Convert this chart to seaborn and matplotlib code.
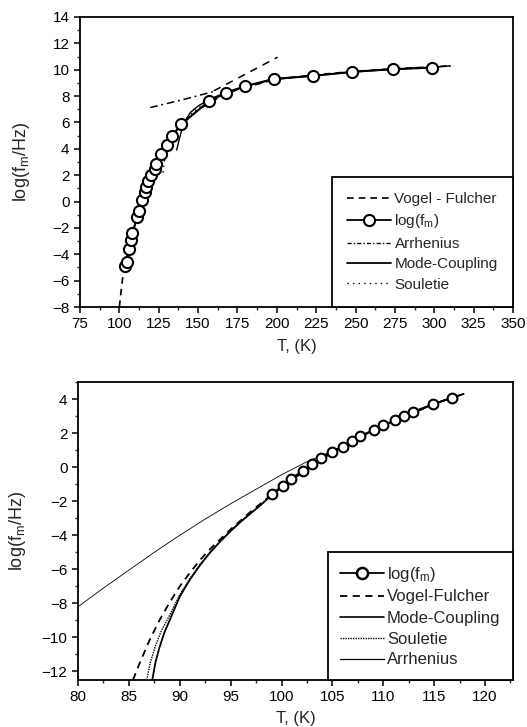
import matplotlib
matplotlib.use("Agg")
import matplotlib.pyplot as plt
from matplotlib.lines import Line2D
from matplotlib.ticker import MultipleLocator
import seaborn as sns

# ---------------- data: upper panel ----------------
top_T = [103.4, 104.6, 106.1, 107.4, 108.2, 111.4, 112.5, 114.6, 116.3, 116.8, 118.0, 119.9,
         122.6, 123.0, 126.2, 130.2, 133.5, 139.1, 157.0, 168.0, 180.0, 198.0, 223.0, 248.0,
         273.5, 298.7]
top_log = [-4.86, -4.55, -3.6, -2.9, -2.4, -1.2, -0.7, 0.08, 0.7, 1.12, 1.55, 1.98,
           2.5, 2.86, 3.63, 4.3, 4.95, 5.85, 7.62, 8.27, 8.75, 9.3, 9.53, 9.84,
           10.04, 10.16]

top_vf_T = [100, 101, 102, 103, 104.5, 106, 108, 110, 113, 116, 120, 125, 130, 135, 140,
            150, 160, 175, 200, 225, 250, 275, 300, 310]
top_vf_log = [-8.0, -6.9, -5.9, -5.0, -4.3, -3.5, -2.6, -1.7, -0.5, 0.6, 1.9, 3.3, 4.4, 5.2, 5.9,
              6.95, 7.7, 8.5, 9.3, 9.62, 9.88, 10.08, 10.22, 10.3]

top_mc_T = [136.4, 138.0, 139.6, 141.7, 145, 150, 155.4, 160, 168, 180, 198, 223, 248, 273, 298, 310.3]
top_mc_log = [3.9, 4.7, 5.4, 6.07, 6.75, 7.25, 7.62, 7.9, 8.27, 8.75, 9.28, 9.55, 9.83, 10.03, 10.18, 10.29]

top_so_T = [127.8, 128.3, 129.5, 131, 133, 136, 140, 145, 150, 157, 168, 180, 198, 223, 248, 273, 298, 310]
top_so_log = [2.2, 2.9, 3.6, 4.2, 4.8, 5.4, 6.0, 6.6, 7.1, 7.6, 8.2, 8.7, 9.25, 9.55, 9.83, 10.03, 10.18, 10.28]

top_arr_T = [119.6, 140.0, 160.0]
top_arr_log = [7.13, 7.72, 8.35]
top_arr2_T = [160.0, 200.5]
top_arr2_log = [8.4, 10.95]

# ---------------- data: lower panel ----------------
bot_T = [99.1, 100.1, 100.9, 102.1, 102.95, 103.9, 105.0, 106.0, 106.9, 107.7, 109.1, 110.0,
         111.2, 112.05, 112.9, 114.9, 116.8]
bot_log = [-1.55, -1.1, -0.67, -0.22, 0.18, 0.55, 0.9, 1.2, 1.53, 1.82, 2.2, 2.47,
           2.76, 3.0, 3.25, 3.7, 4.08]

bot_vf_T = [85.4, 86, 87, 88, 89, 90, 91, 92, 93, 95, 97, 99.1, 101, 103, 105, 107, 109, 111,
            113, 115, 117.9]
bot_vf_log = [-12.5, -11.6, -10.2, -9.0, -7.95, -7.0, -6.2, -5.45, -4.8, -3.65, -2.6, -1.58,
              -0.75, 0.1, 0.88, 1.55, 2.15, 2.7, 3.2, 3.72, 4.3]

bot_mc_T = [87.3, 87.6, 88.0, 88.5, 89.0, 90.0, 91.0, 92.0, 93.0, 94.0, 95.0, 96.0, 97.0, 98.0,
            99.1, 101, 103, 105, 107, 109, 111, 113, 115, 117.9]
bot_mc_log = [-12.5, -11.5, -10.6, -9.7, -9.0, -7.6, -6.6, -5.75, -5.0, -4.35, -3.75, -3.2, -2.7,
              -2.2, -1.6, -0.75, 0.1, 0.88, 1.55, 2.15, 2.7, 3.2, 3.72, 4.3]

bot_so_T = [86.75, 87.1, 87.6, 88.2, 89.0, 90.0, 91.0, 92.0, 93.0, 94.0, 95.0, 96.0, 97.0, 98.0,
            99.1, 101, 103, 105, 107, 109, 111, 113, 115, 117.9]
bot_so_log = [-12.5, -11.5, -10.5, -9.6, -8.7, -7.5, -6.55, -5.7, -5.0, -4.35, -3.75, -3.2, -2.7,
              -2.2, -1.6, -0.75, 0.1, 0.88, 1.55, 2.15, 2.7, 3.2, 3.72, 4.3]

bot_arr_T = [80, 82.5, 85, 87.5, 90, 92.5, 95, 97.5, 100, 102.5, 105, 110, 115, 117.9]
bot_arr_log = [-8.2, -7.1, -6.05, -5.0, -4.0, -3.05, -2.15, -1.3, -0.45, 0.32, 0.95, 2.45, 3.72, 4.3]

top_xticks = [75, 100, 125, 150, 175, 200, 225, 250, 275, 300, 325, 350]
top_yticks = [-8, -6, -4, -2, 0, 2, 4, 6, 8, 10, 12, 14]
bot_xticks = [80, 85, 90, 95, 100, 105, 110, 115, 120]
bot_yticks = [-12, -10, -8, -6, -4, -2, 0, 2, 4]

# ---------------- style ----------------
sns.set_style("ticks")
plt.rcParams["font.family"] = ["Liberation Sans", "DejaVu Sans"]
plt.rcParams["mathtext.default"] = "regular"
plt.rcParams["axes.linewidth"] = 1.3
plt.rcParams["xtick.major.width"] = 1.1
plt.rcParams["ytick.major.width"] = 1.1
plt.rcParams["xtick.minor.width"] = 1.0
plt.rcParams["ytick.minor.width"] = 1.0
plt.rcParams["xtick.major.size"] = 4
plt.rcParams["ytick.major.size"] = 4
plt.rcParams["xtick.minor.size"] = 2.5
plt.rcParams["ytick.minor.size"] = 2.5
plt.rcParams["xtick.minor.visible"] = True
plt.rcParams["ytick.minor.visible"] = True

fig = plt.figure(figsize=(5.27, 7.27), dpi=100)
ax1 = fig.add_axes([80 / 527, 1 - 307 / 727, 433 / 527, 290 / 727])
ax2 = fig.add_axes([78 / 527, 1 - 680 / 727, 435 / 527, 298 / 727])

K = "k"
VF_LS = (0, (4, 3))
ARR_LS = (0, (5, 2.5, 1.2, 2.5))
SO_LS_TOP = (0, (1, 3))
SO_LS_BOT = (0, (1, 0.8))


def line(ax, x, y, **kw):
    sns.lineplot(x=x, y=y, ax=ax, color=K, estimator=None, sort=False, legend=False, **kw)


# ---------------- upper panel ----------------
line(ax1, top_vf_T, top_vf_log, linestyle=VF_LS, linewidth=1.2)
line(ax1, top_so_T, top_so_log, linestyle=SO_LS_TOP, linewidth=1.0)
line(ax1, top_mc_T, top_mc_log, linewidth=1.0)
line(ax1, top_arr_T, top_arr_log, linestyle=ARR_LS, linewidth=1.1)
line(ax1, top_arr2_T, top_arr2_log, linestyle=(0, (5, 4)), linewidth=1.1)
line(ax1, top_T, top_log, linewidth=1.5, marker="o", markersize=8,
     markerfacecolor="white", markeredgecolor=K, markeredgewidth=1.5)

ax1.set_xlim(75, 350)
ax1.set_ylim(-8, 14)
ax1.set_xticks(top_xticks)
ax1.set_yticks(top_yticks)
ax1.xaxis.set_minor_locator(MultipleLocator(12.5))
ax1.yaxis.set_minor_locator(MultipleLocator(1))
ax1.tick_params(labelsize=11, colors=K)
ax1.set_xlabel("T, (K)", fontsize=12)
ax1.set_ylabel("log(f$_m$/Hz)", fontsize=13)
ax1.xaxis.set_label_coords(0.5, -0.11)
ax1.yaxis.set_label_coords(-0.11, 0.5)

h_top = [
    Line2D([], [], color=K, linestyle=VF_LS, linewidth=1.2),
    Line2D([], [], color=K, linewidth=1.3, marker="o", markersize=8,
           markerfacecolor="white", markeredgewidth=1.5),
    Line2D([], [], color=K, linestyle=(0, (3, 1.5, 1, 1.5)), linewidth=1.0),
    Line2D([], [], color=K, linewidth=1.3),
    Line2D([], [], color=K, linestyle=SO_LS_TOP, linewidth=1.0),
]
l_top = ["Vogel - Fulcher", "log(f$_m$)", "Arrhenius", "Mode-Coupling", "Souletie"]
leg1 = ax1.legend(h_top, l_top, loc="lower right", bbox_to_anchor=(1, 0), borderaxespad=0,
                  fontsize=11, frameon=True, fancybox=False, framealpha=1, edgecolor=K,
                  handlelength=2.9, handletextpad=0.2, labelspacing=0.42, borderpad=1.0)
leg1.get_frame().set_linewidth(1.3)

# ---------------- lower panel ----------------
line(ax2, bot_arr_T, bot_arr_log, linewidth=0.6)
line(ax2, bot_vf_T, bot_vf_log, linestyle=VF_LS, linewidth=1.3)
line(ax2, bot_so_T, bot_so_log, linestyle=SO_LS_BOT, linewidth=1.0)
line(ax2, bot_mc_T, bot_mc_log, linewidth=1.3)
line(ax2, bot_T, bot_log, linewidth=1.3, marker="o", markersize=7,
     markerfacecolor="white", markeredgecolor=K, markeredgewidth=1.5)

ax2.set_xlim(80, 122.75)
ax2.set_ylim(-12.5, 5)
ax2.set_xticks(bot_xticks)
ax2.set_yticks(bot_yticks)
ax2.xaxis.set_minor_locator(MultipleLocator(2.5))
ax2.yaxis.set_minor_locator(MultipleLocator(1))
ax2.tick_params(labelsize=11, colors=K)
ax2.set_xlabel("T, (K)", fontsize=12)
ax2.set_ylabel("log(f$_m$/Hz)", fontsize=13)
ax2.xaxis.set_label_coords(0.5, -0.105)
ax2.yaxis.set_label_coords(-0.115, 0.5)

h_bot = [
    Line2D([], [], color=K, linewidth=1.3, marker="o", markersize=8,
           markerfacecolor="white", markeredgewidth=1.8),
    Line2D([], [], color=K, linestyle=VF_LS, linewidth=1.3),
    Line2D([], [], color=K, linewidth=1.2),
    Line2D([], [], color=K, linestyle=SO_LS_BOT, linewidth=1.0),
    Line2D([], [], color=K, linewidth=0.9),
]
l_bot = ["log(f$_m$)", "Vogel-Fulcher", "Mode-Coupling", "Souletie", "Arrhenius"]
leg2 = ax2.legend(h_bot, l_bot, loc="lower right", bbox_to_anchor=(1, 0), borderaxespad=0,
                  fontsize=12, frameon=True, fancybox=False, framealpha=1, edgecolor=K,
                  handlelength=2.6, handletextpad=0.2, labelspacing=0.36, borderpad=0.75)
leg2.get_frame().set_linewidth(1.3)

for ax in (ax1, ax2):
    for s in ax.spines.values():
        s.set_color(K)
        s.set_visible(True)

fig.savefig("out.png", dpi=100)
